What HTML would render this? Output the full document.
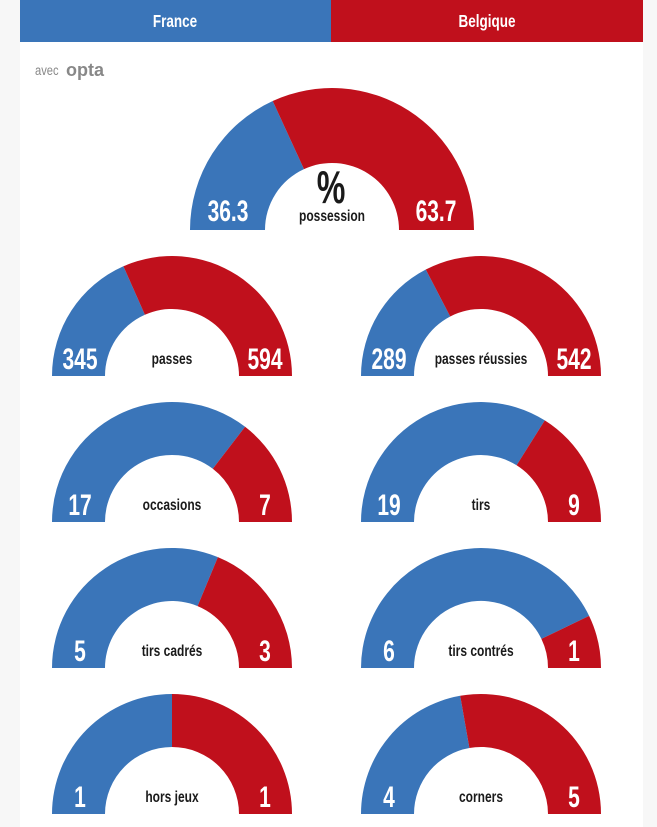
<!DOCTYPE html>
<html><head><meta charset="utf-8"><style>
html,body{margin:0;padding:0;background:#f7f7f7;width:657px;height:827px;overflow:hidden}
svg{display:block}
text{font-family:"Liberation Sans Narrow","Liberation Sans",sans-serif;font-weight:bold}
.n{fill:#fff;font-size:30px;text-anchor:middle}
.l{fill:#1a1a1a;font-size:16px;text-anchor:middle}
</style></head><body>
<svg width="657" height="827" viewBox="0 0 657 827">
<rect x="20" y="0" width="623" height="827" fill="#fff"/>
<rect x="20" y="0" width="311" height="42" fill="#3a75b9"/>
<rect x="331" y="0" width="312" height="42" fill="#c0101c"/>
<text transform="translate(175,27) scale(0.75,1)" fill="#fff" font-size="18" text-anchor="middle">France</text>
<text transform="translate(487,27) scale(0.75,1)" fill="#fff" font-size="18" text-anchor="middle">Belgique</text>
<text transform="translate(35,75) scale(0.8,1)" fill="#888" font-size="14" style="font-weight:normal">avec</text>
<text x="66" y="76" fill="#888" font-size="18" style="font-family:'Liberation Sans',sans-serif">opta</text>

<path d="M190,230 A142,142 0 0 1 272.7,101 L304,169.1 A67,67 0 0 0 265,230 Z" fill="#3a75b9"/>
<path d="M272.7,101 A142,142 0 0 1 474,230 L399,230 A67,67 0 0 0 304,169.1 Z" fill="#c0101c"/>
<text class="n" transform="translate(228,221) scale(0.7,1)">36.3</text>
<text class="n" transform="translate(436,221) scale(0.7,1)">63.7</text>
<text transform="translate(331,203) scale(0.7,1)" fill="#1a1a1a" font-size="46" text-anchor="middle">%</text>
<text class="l" transform="translate(332,221) scale(0.75,1)">possession</text>

<g transform="translate(172,376)">
<path d="M-120,0 A120,120 0 0 1 -48.6,-109.7 L-27.1,-61.3 A67,67 0 0 0 -67,0 Z" fill="#3a75b9"/>
<path d="M-48.6,-109.7 A120,120 0 0 1 120,0 L67,0 A67,67 0 0 0 -27.1,-61.3 Z" fill="#c0101c"/>
<text class="n" transform="translate(-92,-7) scale(0.7,1)">345</text><text class="n" transform="translate(93,-7) scale(0.7,1)">594</text><text class="l" transform="translate(0,-12) scale(0.75,1)">passes</text>
</g>
<g transform="translate(481,376)">
<path d="M-120,0 A120,120 0 0 1 -55.2,-106.5 L-30.8,-59.5 A67,67 0 0 0 -67,0 Z" fill="#3a75b9"/>
<path d="M-55.2,-106.5 A120,120 0 0 1 120,0 L67,0 A67,67 0 0 0 -30.8,-59.5 Z" fill="#c0101c"/>
<text class="n" transform="translate(-92,-7) scale(0.7,1)">289</text><text class="n" transform="translate(93,-7) scale(0.7,1)">542</text><text class="l" transform="translate(0,-12) scale(0.75,1)">passes réussies</text>
</g>
<g transform="translate(172,522)">
<path d="M-120,0 A120,120 0 0 1 73.1,-95.2 L40.8,-53.2 A67,67 0 0 0 -67,0 Z" fill="#3a75b9"/>
<path d="M73.1,-95.2 A120,120 0 0 1 120,0 L67,0 A67,67 0 0 0 40.8,-53.2 Z" fill="#c0101c"/>
<text class="n" transform="translate(-92,-7) scale(0.7,1)">17</text><text class="n" transform="translate(93,-7) scale(0.7,1)">7</text><text class="l" transform="translate(0,-12) scale(0.75,1)">occasions</text>
</g>
<g transform="translate(481,522)">
<path d="M-120,0 A120,120 0 0 1 63.8,-101.6 L35.6,-56.7 A67,67 0 0 0 -67,0 Z" fill="#3a75b9"/>
<path d="M63.8,-101.6 A120,120 0 0 1 120,0 L67,0 A67,67 0 0 0 35.6,-56.7 Z" fill="#c0101c"/>
<text class="n" transform="translate(-92,-7) scale(0.7,1)">19</text><text class="n" transform="translate(93,-7) scale(0.7,1)">9</text><text class="l" transform="translate(0,-12) scale(0.75,1)">tirs</text>
</g>
<g transform="translate(172,668)">
<path d="M-120,0 A120,120 0 0 1 45.9,-110.9 L25.6,-61.9 A67,67 0 0 0 -67,0 Z" fill="#3a75b9"/>
<path d="M45.9,-110.9 A120,120 0 0 1 120,0 L67,0 A67,67 0 0 0 25.6,-61.9 Z" fill="#c0101c"/>
<text class="n" transform="translate(-92,-7) scale(0.7,1)">5</text><text class="n" transform="translate(93,-7) scale(0.7,1)">3</text><text class="l" transform="translate(0,-12) scale(0.75,1)">tirs cadrés</text>
</g>
<g transform="translate(481,668)">
<path d="M-120,0 A120,120 0 0 1 108.1,-52.1 L60.4,-29.1 A67,67 0 0 0 -67,0 Z" fill="#3a75b9"/>
<path d="M108.1,-52.1 A120,120 0 0 1 120,0 L67,0 A67,67 0 0 0 60.4,-29.1 Z" fill="#c0101c"/>
<text class="n" transform="translate(-92,-7) scale(0.7,1)">6</text><text class="n" transform="translate(93,-7) scale(0.7,1)">1</text><text class="l" transform="translate(0,-12) scale(0.75,1)">tirs contrés</text>
</g>
<g transform="translate(172,814)">
<path d="M-120,0 A120,120 0 0 1 0,-120 L0,-67 A67,67 0 0 0 -67,0 Z" fill="#3a75b9"/>
<path d="M0,-120 A120,120 0 0 1 120,0 L67,0 A67,67 0 0 0 0,-67 Z" fill="#c0101c"/>
<text class="n" transform="translate(-92,-7) scale(0.7,1)">1</text><text class="n" transform="translate(93,-7) scale(0.7,1)">1</text><text class="l" transform="translate(0,-12) scale(0.75,1)">hors jeux</text>
</g>
<g transform="translate(481,814)">
<path d="M-120,0 A120,120 0 0 1 -20.8,-118.2 L-11.6,-66 A67,67 0 0 0 -67,0 Z" fill="#3a75b9"/>
<path d="M-20.8,-118.2 A120,120 0 0 1 120,0 L67,0 A67,67 0 0 0 -11.6,-66 Z" fill="#c0101c"/>
<text class="n" transform="translate(-92,-7) scale(0.7,1)">4</text><text class="n" transform="translate(93,-7) scale(0.7,1)">5</text><text class="l" transform="translate(0,-12) scale(0.75,1)">corners</text>
</g>
</svg>
</body></html>
